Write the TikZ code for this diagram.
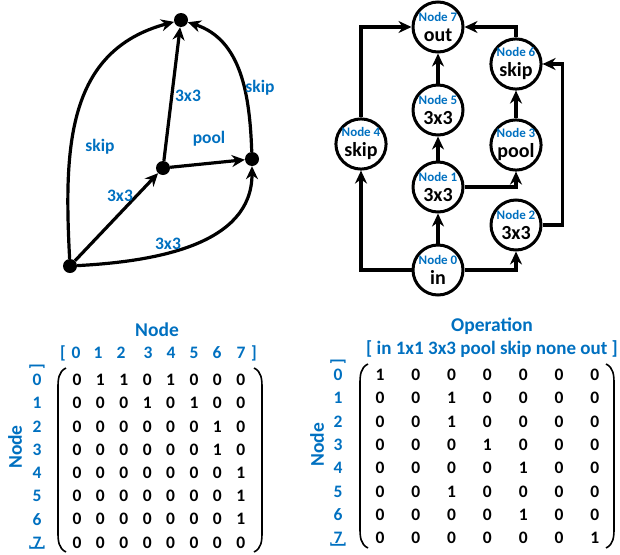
\documentclass[tikz,border=0pt]{standalone}
\usepackage{fontspec}
\setmainfont{Carlito}
\usepackage{tikz}
\usetikzlibrary{arrows.meta,positioning,calc}

\definecolor{idxblue}{HTML}{0070C0}

\begin{document}
\begin{tikzpicture}[x=1pt, y=1pt,
        edge/.style={line width=3.2pt, -{Stealth[length=13pt,width=12pt]}},
        dot/.style={circle, fill=black, inner sep=0pt, minimum size=14pt},
        oplabel/.style={text=idxblue, font=\fontsize{17.5}{19}\selectfont\bfseries},
        cell/.style={circle, draw, line width=3pt, minimum size=50pt, inner sep=0pt, align=center,
                     font=\fontsize{20}{20}\selectfont\bfseries},
        entry/.style={font=\fontsize{17.5}{19}\selectfont\bfseries},
        index/.style={text=idxblue, font=\fontsize{17.5}{19}\selectfont\bfseries},
        heading/.style={text=idxblue, font=\fontsize{19.5}{22}\selectfont\bfseries},
        paren/.style={line width=1.6pt}]
    \useasboundingbox (0,0) rectangle (620,-554);

    % cell graph (left)
    \node[dot] (a) at (70,-266) {};
    \node[dot] (b) at (163,-168) {};
    \node[dot] (c) at (252,-159) {};
    \node[dot] (d) at (181,-20) {};

    \draw[edge] (a) -- (b);
    \draw[edge] (b) -- (d);
    \draw[edge] (b) -- (c);
    \draw[edge] (a) to[out=3, in=-90] (c);
    \draw[edge] (a) to[out=93, in=195, looseness=1.1] (d);
    \draw[edge] (c) to[out=92, in=-18] (d);

    \node[oplabel] (lab) at (120,-196) {3x3};
    \node[oplabel] (lac) at (168,-244) {3x3};
    \node[oplabel] (lad) at (100,-147) {skip};
    \node[oplabel] (lbd) at (188,-96) {3x3};
    \node[oplabel] (lbc) at (209,-139) {pool};
    \node[oplabel] (lcd) at (260,-88) {skip};

    % node graph (right)
    \newcommand{\cellbody}[2]{{\color{idxblue}\fontsize{13}{14}\selectfont #1}\\#2}
    \node[cell] (n7) at (438,-27) {\cellbody{Node 7}{out}};
    \node[cell] (n5) at (438,-110) {\cellbody{Node 5}{3x3}};
    \node[cell] (n1) at (438,-187) {\cellbody{Node 1}{3x3}};
    \node[cell] (n0) at (438,-270) {\cellbody{Node 0}{in}};
    \node[cell] (n4) at (361,-144) {\cellbody{Node 4}{skip}};
    \node[cell] (n6) at (516,-64) {\cellbody{Node 6}{skip}};
    \node[cell] (n3) at (516,-145) {\cellbody{Node 3}{pool}};
    \node[cell] (n2) at (516,-225) {\cellbody{Node 2}{3x3}};

    \draw[edge] (n0) -- (n1);
    \draw[edge] (n1) -- (n5);
    \draw[edge] (n5) -- (n7);
    \draw[edge] (n3) -- (n6);
    \draw[edge] (n0.west) -| (n4.south);
    \draw[edge] (n4.north) |- (n7.west);
    \draw[edge] (n0.east) -| (n2.south);
    \draw[edge] (n1.east) -| (n3.south);
    \draw[edge] (n2.east) -| ([xshift=20pt]n6.east) -- (n6.east);
    \draw[edge] (n6.north) |- (n7.east);

    % adjacency matrix (bottom left)
    \node[heading] (adjhead) at (157,-330) {Node};
    \foreach \x/\t [count=\i] in {63/[, 76/0, 98/1, 121/2, 148/3, 171/4, 194/5, 217/6, 241/7, 254/]}
        \node[index] (acol\i) at (\x,-353) {\t};
    \node[heading, rotate=90] (adjside) at (15,-447) {Node};
    \node[index, rotate=90] (atop) at (37,-367) {]};
    \node[index, rotate=90] (abot) at (37,-548) {[};
    \foreach \row [count=\r from 0] in {{0,1,1,0,1,0,0,0},{0,0,0,1,0,1,0,0},{0,0,0,0,0,0,1,0},{0,0,0,0,0,0,1,0},
                                       {0,0,0,0,0,0,0,1},{0,0,0,0,0,0,0,1},{0,0,0,0,0,0,0,1},{0,0,0,0,0,0,0,0}} {
        \node[index] (arow\r) at (37,-380-23.2*\r) {\r};
        \foreach \v [count=\c from 0] in \row
            \node[entry] (a\r-\c) at (77+23.4*\c,-380-23.2*\r) {\v};
    }
    \draw[paren] (66,-368) to[out=205, in=90] (58,-388) -- (58,-532) to[out=-90, in=155] (66,-552);
    \draw[paren] (254,-368) to[out=-25, in=90] (262,-388) -- (262,-532) to[out=-90, in=25] (254,-552);

    % operation matrix (bottom right)
    \node[heading] (ophead) at (492,-326) {Operation};
    \node[index, font=\fontsize{19}{21}\selectfont\bfseries] (oplist) at (492,-349) {[ in 1x1 3x3 pool skip none out ]};
    \node[heading, rotate=90] (opside) at (317,-445) {Node};
    \node[index, rotate=90] (otop) at (338,-362) {]};
    \node[index, rotate=90] (obot) at (338,-545) {[};
    \foreach \row [count=\r from 0] in {{1,0,0,0,0,0,0},{0,0,1,0,0,0,0},{0,0,1,0,0,0,0},{0,0,0,1,0,0,0},
                                       {0,0,0,0,1,0,0},{0,0,1,0,0,0,0},{0,0,0,0,1,0,0},{0,0,0,0,0,0,1}} {
        \node[index] (orow\r) at (338,-375-23.3*\r) {\r};
        \foreach \v [count=\c from 0] in \row
            \node[entry] (o\r-\c) at (380+35.8*\c,-375-23.3*\r) {\v};
    }
    \draw[paren] (368,-364) to[out=205, in=90] (360,-384) -- (360,-528) to[out=-90, in=155] (368,-548);
    \draw[paren] (606,-364) to[out=-25, in=90] (614,-384) -- (614,-528) to[out=-90, in=25] (606,-548);
\end{tikzpicture}
\end{document}
